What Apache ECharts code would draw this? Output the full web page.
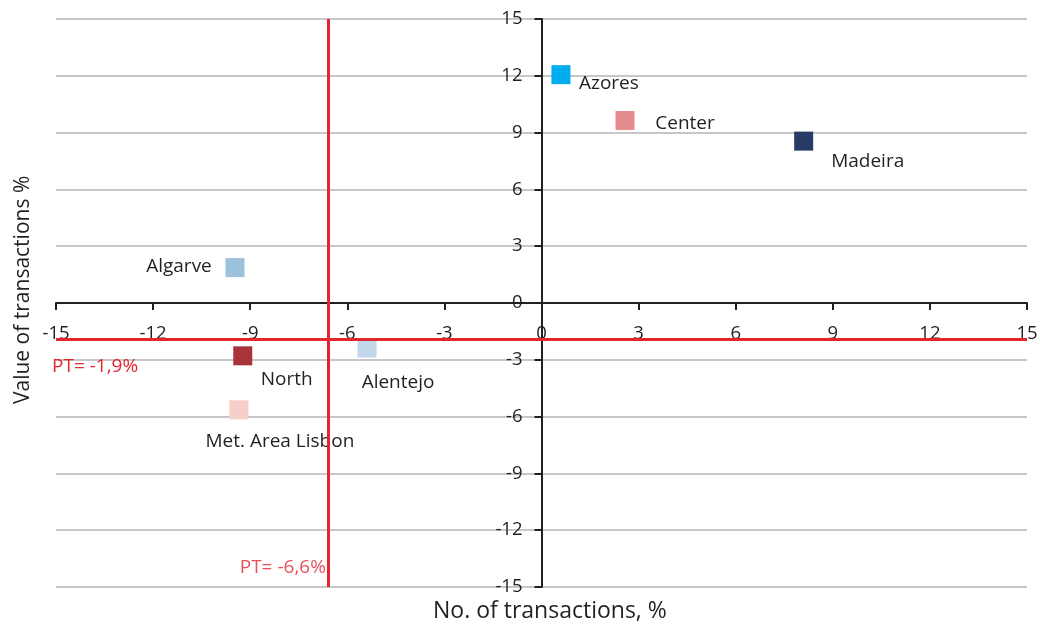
<!DOCTYPE html>
<html>
<head>
<meta charset="utf-8">
<script src="https://cdn.jsdelivr.net/npm/echarts@6/dist/echarts.min.js"></script>
<style>
  html, body { margin: 0; padding: 0; background: #fff; }
  #chart { width: 1040px; height: 627px; }
</style>
</head>
<body>
<div id="chart"></div>
<script>
// data
var regions = ['Azores', 'Center', 'Madeira', 'Algarve', 'North', 'Alentejo', 'Met. Area Lisbon'];
var noOfTransactions = [0.6, 2.58, 8.1, -9.47, -9.23, -5.39, -9.35];
var valueOfTransactions = [12.06, 9.64, 8.55, 1.87, -2.79, -2.38, -5.64];
var ptNo = -6.6;      // national average, no. of transactions
var ptValue = -1.9;   // national average, value of transactions
var ptNoLabel = 'PT= -6,6%';
var ptValueLabel = 'PT= -1,9%';
var xName = 'No. of transactions, %';
var yName = 'Value of transactions %';

// styles
var colors = ['#00AEEF', '#E68B8E', '#283A66', '#9BC1DB', '#A8343A', '#C3D7EA', '#F6CFCA'];
var labelOffsets = [[48, 9], [60, 3], [64, 20], [-56, -1], [44, 24], [31, 35], [41, 32]];

var textColor = '#231F20';
var red = '#E1262D';
var font = '"Open Sans", sans-serif';

// grid box
var gLeft = 56, gRight = 13, gTop = 19, gBottom = 40;
var gWidth = 1040 - gLeft - gRight;
var gHeight = 627 - gTop - gBottom;

var myChart = echarts.init(document.getElementById('chart'));

var points = regions.map(function (name, i) {
    return {
        name: name,
        value: [noOfTransactions[i], valueOfTransactions[i]],
        itemStyle: { color: colors[i], opacity: 1 },
        label: { offset: labelOffsets[i] }
    };
});

var option = {
    animation: false,
    textStyle: { fontFamily: font },
    grid: {
        left: gLeft,
        right: gRight,
        top: gTop,
        bottom: gBottom,
        containLabel: false,
        outerBoundsMode: 'none'
    },
    graphic: [
        {
            type: 'text',
            left: 433,
            top: 600,
            style: { text: xName, fill: textColor, font: '23px ' + font }
        },
        {
            type: 'text',
            x: 13,
            y: 404,
            rotation: Math.PI / 2,
            style: { text: yName, fill: textColor, font: '21px ' + font }
        }
    ],
    xAxis: {
        type: 'value',
        min: -15,
        max: 15,
        interval: 3,
        // axis drawn through y = 0 (middle of the grid)
        offset: -gHeight / 2,
        axisLine: { onZero: false, lineStyle: { color: textColor, width: 2 } },
        axisTick: { show: true, length: 7, lineStyle: { color: textColor, width: 2 } },
        axisLabel: { color: textColor, fontSize: 18.5, margin: 21, fontFamily: font },
        splitLine: { show: false }
    },
    yAxis: {
        type: 'value',
        min: -15,
        max: 15,
        interval: 3,
        // axis drawn through x = 0 (middle of the grid)
        offset: -gWidth / 2,
        axisLine: { onZero: false, lineStyle: { color: textColor, width: 2 } },
        axisTick: { show: true, length: 7, lineStyle: { color: textColor, width: 2 } },
        axisLabel: { color: textColor, fontSize: 18.5, margin: 19, fontFamily: font },
        splitLine: { show: true, lineStyle: { color: '#B5B5B5', width: 1.5 } }
    },
    series: [
        {
            name: 'Regions',
            type: 'scatter',
            symbol: 'rect',
            symbolSize: 19,
            data: points,
            label: {
                show: true,
                position: 'inside',
                formatter: '{b}',
                color: textColor,
                fontSize: 19,
                fontFamily: font
            },
            markLine: {
                silent: true,
                symbol: 'none',
                z: 10,
                lineStyle: { color: red, width: 3, type: 'solid', opacity: 1 },
                label: { show: false },
                data: [
                    { xAxis: ptNo },
                    {
                        yAxis: ptValue,
                        label: {
                            show: true,
                            position: 'insideStartBottom',
                            formatter: ptValueLabel,
                            color: red,
                            fontSize: 19,
                            fontFamily: font,
                            distance: [-4, 18]
                        }
                    }
                ]
            },
            z: 3
        },
        {
            // label for the vertical PT line
            name: 'PT',
            type: 'scatter',
            symbolSize: 0,
            silent: true,
            data: [[ptNo, -15]],
            label: {
                show: true,
                position: 'inside',
                align: 'right',
                formatter: ptNoLabel,
                color: red,
                fontSize: 19,
                fontFamily: font,
                offset: [-2, -19]
            }
        }
    ]
};

myChart.setOption(option);
</script>
</body>
</html>
